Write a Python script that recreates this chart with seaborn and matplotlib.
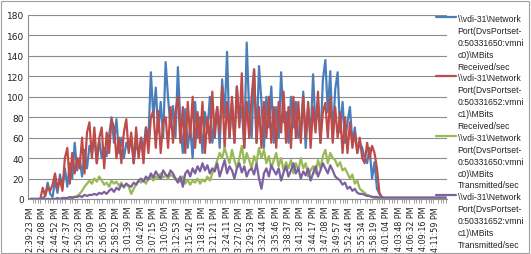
import numpy as np
import pandas as pd
import matplotlib
matplotlib.use("Agg")
import matplotlib.pyplot as plt
import seaborn as sns

tick_labels = ["2:39:23 PM", "2:42:08 PM", "2:44:52 PM", "2:47:37 PM", "2:50:23 PM", "2:53:09 PM",
               "2:56:05 PM", "2:58:52 PM", "3:01:39 PM", "3:04:26 PM", "3:07:15 PM", "3:10:05 PM",
               "3:12:53 PM", "3:15:42 PM", "3:18:31 PM", "3:21:21 PM", "3:24:11 PM", "3:27:02 PM",
               "3:29:53 PM", "3:32:44 PM", "3:35:46 PM", "3:38:37 PM", "3:41:28 PM", "3:44:17 PM",
               "3:47:08 PM", "3:49:57 PM", "3:52:44 PM", "3:55:34 PM", "3:58:19 PM", "4:01:04 PM",
               "4:03:48 PM", "4:06:32 PM", "4:09:16 PM", "4:11:59 PM"]

series_names = [
    "\\\\vdi-31\\Network\nPort(DvsPortset-\n0:50331650:vmni\nc0)\\MBits\nReceived/sec",
    "\\\\vdi-31\\Network\nPort(DvsPortset-\n0:50331652:vmni\nc1)\\MBits\nReceived/sec",
    "\\\\vdi-31\\Network\nPort(DvsPortset-\n0:50331650:vmni\nc0)\\MBits\nTransmitted/sec",
    "\\\\vdi-31\\Network\nPort(DvsPortset-\n0:50331652:vmni\nc1)\\MBits\nTransmitted/sec",
]

tail = [0.3] * 25
tail_p = [1.5] * 25

recv_vmnic0 = [0, 0, 0, 0, 0, 1, 3, 16, 5, 2,
               18, 6, 24, 10, 30, 12, 35, 20, 55, 28,
               40, 22, 48, 30, 52, 45, 60, 35, 58, 40,
               50, 42, 62, 80, 55, 78, 45, 60, 40, 55,
               48, 60, 35, 55, 45, 60, 50, 70, 58, 124,
               80, 109, 65, 95, 60, 134, 99, 70, 91, 60,
               129, 75, 45, 88, 50, 70, 40, 95, 60, 80,
               45, 85, 65, 100, 55, 75, 90, 50, 117, 80,
               144, 60, 95, 55, 110, 75, 90, 50, 153, 85,
               60, 126, 55, 130, 95, 50, 100, 70, 110, 55,
               90, 60, 124, 75, 85, 55, 100, 70, 95, 60,
               65, 105, 50, 90, 60, 122, 70, 95, 55, 117,
               136, 85, 125, 60, 107, 124, 65, 95, 55, 75,
               90, 55, 70, 45, 55, 50, 40, 35, 50, 20,
               36, 10, 5, 1, 0.5] + tail

recv_vmnic1 = [0, 0, 0, 0, 0, 11, 3, 12, 8, 14,
               25, 10, 20, 8, 40, 50, 15, 45, 25, 40,
               30, 60, 25, 65, 75, 40, 70, 35, 60, 70,
               30, 65, 45, 78, 70, 40, 60, 35, 65, 78,
               45, 65, 35, 70, 40, 60, 35, 70, 45, 80,
               86, 50, 86, 45, 75, 80, 50, 90, 55, 85,
               100, 55, 90, 45, 95, 60, 100, 50, 85, 55,
               95, 45, 80, 55, 105, 60, 90, 65, 110, 50,
               95, 60, 100, 55, 110, 70, 123, 50, 95, 60,
               100, 127, 55, 90, 50, 95, 60, 100, 55, 90,
               50, 95, 65, 105, 55, 90, 50, 100, 60, 95,
               55, 100, 60, 95, 50, 90, 65, 105, 55, 85,
               94, 60, 100, 55, 90, 60, 85, 45, 80, 45,
               75, 50, 65, 45, 60, 40, 35, 55, 40, 52,
               45, 30, 6, 2, 0.5] + tail

trans_vmnic0 = [0, 0, 0, 0, 0, 0, 0, 0, 0, 0,
                0, 0, 0, 0, 0, 1, 1, 2, 2, 3,
                5, 8, 12, 15, 18, 15, 20, 17, 22, 18,
                14, 16, 12, 18, 15, 17, 13, 16, 11, 15,
                12, 5, 10, 14, 18, 16, 19, 15, 20, 22,
                18, 22, 20, 25, 21, 23, 20, 24, 22, 19,
                20, 17, 22, 15, 19, 14, 18, 16, 20, 15,
                19, 17, 22, 18, 25, 30, 38, 45, 40, 50,
                42, 35, 48, 38, 30, 40, 52, 35, 45, 38,
                30, 42, 36, 50, 40, 48, 35, 42, 30, 38,
                45, 32, 40, 28, 36, 30, 38, 25, 35, 28,
                40, 30, 35, 22, 28, 32, 25, 38, 30, 42,
                48, 35, 45, 40, 38, 32, 36, 28, 30, 25,
                20, 24, 15, 18, 10, 8, 6, 4, 3, 2,
                1, 1, 0.5, 0.5, 0.5] + tail

trans_vmnic1 = [0, 0, 0, 0, 0, 0, 0, 0, 0, 0,
                0, 1, 0, 1, 1, 1, 2, 1, 2, 2,
                3, 2, 4, 3, 4, 4, 5, 4, 6, 5,
                7, 5, 8, 10, 7, 11, 9, 14, 12, 15,
                13, 12, 16, 14, 18, 20, 17, 22, 19, 25,
                21, 27, 23, 20, 28, 24, 22, 28, 25, 20,
                16, 22, 12, 25, 28, 22, 30, 25, 32, 27,
                35, 28, 33, 25, 30, 27, 35, 22, 30, 38,
                25, 32, 28, 20, 30, 35, 26, 32, 22, 28,
                30, 24, 35, 20, 10, 25, 30, 22, 33, 28,
                24, 30, 18, 26, 32, 22, 28, 35, 25, 30,
                20, 27, 23, 30, 18, 25, 32, 22, 28, 35,
                30, 25, 33, 28, 22, 20, 18, 14, 16, 10,
                12, 8, 10, 6, 5, 5, 4, 3, 3, 2,
                2, 2, 1.5, 1.5, 1.5] + tail_p

colors = ["#4A7EBB", "#BE4B48", "#98B954", "#7D60A0"]
y_ticks = [0, 20, 40, 60, 80, 100, 120, 140, 160, 180]

all_series = [recv_vmnic0, recv_vmnic1, trans_vmnic0, trans_vmnic1]
n = len(recv_vmnic0)
frames = []
for name, vals in zip(series_names, all_series):
    frames.append(pd.DataFrame({"idx": np.arange(len(vals)), "value": vals, "series": name}))
df = pd.concat(frames, ignore_index=True)

sns.set_style("white")
plt.rcParams['font.family'] = ['DejaVu Sans']

fig = plt.figure(figsize=(5.31, 2.55), dpi=100)
ax = fig.add_axes([28 / 531, 1 - 200 / 255, (447 - 28) / 531, (200 - 16) / 255])

sns.lineplot(data=df, x="idx", y="value", hue="series", hue_order=series_names,
             palette=colors, linewidth=1.6, ax=ax, legend=False, sort=False)

ax.set_xlim(-1, n - 0.5)
ax.set_ylim(0, 180)
ax.set_yticks(y_ticks)
ax.set_yticklabels([str(v) for v in y_ticks], fontsize=6.5, color="#222222")
ax.set_xticks(np.arange(0, 5 * len(tick_labels), 5))
ax.set_xticklabels(tick_labels, rotation=90, fontsize=5.8, color="#222222")
ax.set_xticks(np.arange(0, n, 1), minor=True)
ax.tick_params(axis="x", which="major", length=3, color="#8C8C8C", pad=2)
ax.tick_params(axis="x", which="minor", length=3, color="#8C8C8C", width=0.6, bottom=True)
ax.tick_params(axis="y", length=0, pad=3)
ax.set_xlabel("")
ax.set_ylabel("")
ax.yaxis.grid(True, color="#8C8C8C", linewidth=0.8)
ax.set_axisbelow(True)
for s in ["top", "right"]:
    ax.spines[s].set_visible(False)
ax.spines["left"].set_color("#8C8C8C")
ax.spines["bottom"].set_color("#8C8C8C")
ax.spines["left"].set_linewidth(0.8)
ax.spines["bottom"].set_linewidth(0.8)

handles = [plt.Line2D([], [], color=c, linewidth=1.6) for c in colors]
leg = fig.legend(handles, series_names, loc="upper left", bbox_to_anchor=(436 / 531, 1 - 15 / 255),
                 frameon=False, prop={"family": "Liberation Sans", "size": 6.2},
                 handlelength=2.3, handletextpad=0.2,
                 labelspacing=0.3, borderpad=0, borderaxespad=0)
for t in leg.get_texts():
    t.set_linespacing(1.42)
    t.set_color("#222222")
for col in leg._legend_handle_box.get_children():
    for item in col.get_children():
        item.align = "top"

fig.patches.append(plt.Rectangle((0.002, 0.004), 0.994, 0.99, transform=fig.transFigure,
                                 fill=False, edgecolor="#A0A0A0", linewidth=0.8))

fig.savefig("out.png", dpi=100)
